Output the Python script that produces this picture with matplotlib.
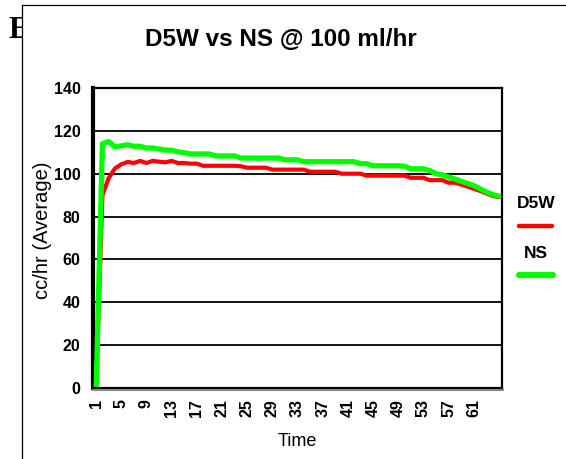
import matplotlib
matplotlib.use("Agg")
import matplotlib.pyplot as plt
from matplotlib import font_manager
from matplotlib.lines import Line2D
from matplotlib.patches import Rectangle

names = {f.name for f in font_manager.fontManager.ttflist}
NARROW = "Liberation Sans Narrow" if "Liberation Sans Narrow" in names else "Liberation Sans"
SERIF = "Liberation Serif"

title = "D5W vs NS @ 100 ml/hr"
x_label = "Time"
y_label = "cc/hr (Average)"
series_names = ["D5W", "NS"]

time_points = list(range(1, 66))
d5w = [0, 90, 98, 102.5, 104.4, 105.5, 105, 106, 105, 106,
       105.6, 105.3, 106, 105, 105, 104.7, 104.7, 103.7, 103.7, 103.7,
       103.7, 103.7, 103.7, 103.5, 102.8, 102.8, 102.8, 102.8, 101.9, 101.9,
       101.9, 101.9, 101.9, 101.9, 100.9, 100.9, 100.9, 100.9, 100.9, 100,
       100, 100, 100, 99.1, 99.1, 99.1, 99.1, 99.1, 99.1, 99.1,
       98.1, 98.1, 98.1, 97, 97, 97, 95.8, 95.8, 95, 94,
       93, 92, 90.8, 89.7, 89]
ns = [0, 114, 115, 112.5, 113, 113.5, 112.8, 112.8, 112, 112,
      111.5, 111, 111, 110.2, 109.8, 109.2, 109.2, 109.2, 109.2, 108.3,
      108.3, 108.3, 108.3, 107.3, 107.3, 107.3, 107.3, 107.3, 107.3, 107.3,
      106.5, 106.5, 106.5, 105.6, 105.6, 105.6, 105.6, 105.6, 105.6, 105.6,
      105.6, 105.6, 104.7, 104.7, 103.7, 103.7, 103.7, 103.7, 103.7, 103.5,
      102.3, 102.3, 102.3, 101.5, 100, 99.5, 98.5, 97.5, 96.5, 95.5,
      94.5, 93, 91.5, 90.3, 89.5]
y_ticks = [0, 20, 40, 60, 80, 100, 120, 140]
x_ticks = list(range(1, 62, 4))

W, H = 566, 459
fig = plt.figure(figsize=(W / 100, H / 100), dpi=100)
fig.patch.set_facecolor("white")

# clipped letter at far left, behind the frame
fig.text(8 / W, 1 - 31 / H, "E", fontsize=22, fontweight="bold",
         fontfamily=SERIF, va="center", ha="left", zorder=0)
fig.patches.append(Rectangle((22 / W, 0), 1, 1 - 5 / H, transform=fig.transFigure,
                             facecolor="white", edgecolor="none", zorder=1))
fig.lines.append(Line2D([22 / W, 22 / W, 1], [0, 1 - 5 / H, 1 - 5 / H],
                        transform=fig.transFigure, color="black", lw=0.9, zorder=2))

ax = fig.add_axes([93 / W, 71 / H, 409 / W, 300 / H])
ax.set_zorder(3)
ax.plot(time_points, d5w, color="#FF0000", lw=3.0, solid_capstyle="round",
        solid_joinstyle="round", zorder=3)
ax.plot(time_points, ns, color="#00FF00", lw=3.8, solid_capstyle="round",
        solid_joinstyle="round", zorder=4)

ax.set_xlim(0.5, 65.5)
ax.set_ylim(0, 140)
ax.set_yticks(y_ticks)
ax.set_yticklabels([str(v) for v in y_ticks], fontfamily=NARROW,
                   fontweight="bold", fontsize=11.5)
ax.set_xticks(x_ticks)
ax.set_xticklabels([str(v) for v in x_ticks], fontfamily=NARROW,
                   fontweight="bold", fontsize=11.5, rotation=90)
ax.tick_params(axis="both", length=0)
ax.tick_params(axis="y", pad=9)
ax.tick_params(axis="x", pad=8)
for v in y_ticks[1:-1]:
    ax.axhline(v, color="black", lw=1.3, zorder=2)

ax.spines["left"].set_linewidth(3.0)
ax.spines["top"].set_linewidth(1.6)
ax.spines["right"].set_linewidth(1.6)
ax.spines["bottom"].set_linewidth(1.6)
ax.spines["bottom"].set_zorder(5)
# gray shadow under the bottom axis
fig.lines.append(Line2D([93 / W, 503 / W], [(71 - 2) / H, (71 - 2) / H],
                        transform=fig.transFigure, color="#8a8a8a", lw=1.5, zorder=4))

fig.text(297 / W, 1 - 441 / H, x_label, fontfamily=NARROW, fontsize=13,
         ha="center", va="center", zorder=5)
fig.text(42 / W, 1 - 230 / H, y_label, fontfamily=NARROW, fontsize=14.5,
         rotation=90, ha="center", va="center", zorder=5)

fig.text(281 / W, 1 - 39 / H, title, fontfamily=NARROW, fontweight="bold",
         fontsize=17.5, ha="center", va="center", zorder=5)

# legend
fig.text(536 / W, 1 - 203 / H, series_names[0], fontfamily=NARROW, fontweight="bold",
         fontsize=12.5, ha="center", va="center", zorder=5)
fig.lines.append(Line2D([519 / W, 552 / W], [1 - 226 / H, 1 - 226 / H],
                        transform=fig.transFigure, color="#FF0000", lw=3.2,
                        solid_capstyle="round", zorder=5))
fig.text(536 / W, 1 - 253 / H, series_names[1], fontfamily=NARROW, fontweight="bold",
         fontsize=12.5, ha="center", va="center", zorder=5)
fig.lines.append(Line2D([519 / W, 553 / W], [1 - 275 / H, 1 - 275 / H],
                        transform=fig.transFigure, color="#00FF00", lw=4.5,
                        solid_capstyle="round", zorder=5))

fig.savefig("out.png", dpi=100)
